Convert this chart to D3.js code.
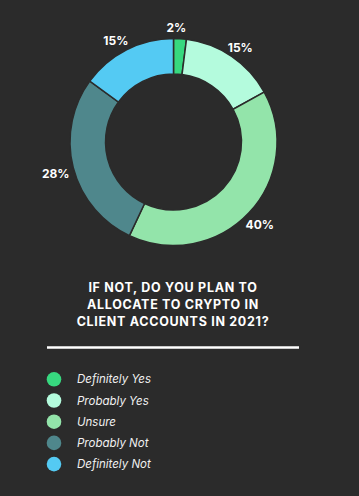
<!DOCTYPE html>
<html><head><meta charset="utf-8">
<script src="https://cdn.jsdelivr.net/npm/d3@7"></script>
<style>html,body{margin:0;padding:0;background:#2b2b2b;}svg{display:block;}</style>
</head><body>
<script>
const categories = ["Definitely Yes","Probably Yes","Unsure","Probably Not","Definitely Not"];
const values = [2,15,40,28,15];
const colors = ["#37d87f","#b4fbdd","#93e4aa","#4f878c","#54caf3"];
const titleLines = ["IF NOT, DO YOU PLAN TO","ALLOCATE TO CRYPTO IN","CLIENT ACCOUNTS IN 2021?"];

const W=359,H=496;
const FONT="Inter, 'Open Sans', sans-serif";
const svg=d3.select("body").append("svg").attr("width",W).attr("height",H);
svg.append("rect").attr("width",W).attr("height",H).attr("fill","#2b2b2b");

const cx=173.5, cy=142, rO=103.5, rI=68;
const pie=d3.pie().sort(null).value(d=>d)(values);
const arc=d3.arc().innerRadius(rI).outerRadius(rO);
const g=svg.append("g").attr("transform",`translate(${cx},${cy})`);
g.selectAll("path").data(pie).join("path")
 .attr("d",arc).attr("fill",(d,i)=>colors[i])
 .attr("stroke","#2b2b2b").attr("stroke-width",1.5);
const lab=d3.arc().innerRadius(117).outerRadius(117);
g.selectAll("text").data(pie).join("text")
 .attr("transform",d=>{const c=lab.centroid(d);const mid=(d.startAngle+d.endAngle)/2;
   return `translate(${c[0]+(Math.sin(mid)>0.2?1:-4.5)},${c[1]+2.3})`;})
 .attr("text-anchor","middle").attr("dominant-baseline","central")
 .attr("fill","#ffffff").attr("font-family",FONT)
 .attr("font-weight","700").attr("font-size",12)
 .text(d=>d.data+"%");

svg.append("g").selectAll("text").data(titleLines).join("text")
 .attr("x",173).attr("y",(d,i)=>292+i*17)
 .attr("text-anchor","middle").attr("fill","#ffffff")
 .attr("font-family",FONT).attr("font-weight","700")
 .attr("font-size",12.5).attr("letter-spacing",0.7)
 .text(d=>d);

svg.append("line").attr("x1",47).attr("x2",299).attr("y1",347.5).attr("y2",347.5)
 .attr("stroke","#ffffff").attr("stroke-width",2.7);

const leg=svg.append("g").selectAll("g").data(categories).join("g")
 .attr("transform",(d,i)=>`translate(0,${379.3+i*21.2})`);
leg.append("circle").attr("cx",54).attr("cy",0).attr("r",7.3).attr("fill",(d,i)=>colors[i]);
leg.append("text").attr("x",77).attr("y",0).attr("dominant-baseline","central")
 .attr("fill","#f0f0f0").attr("font-family",FONT)
 .attr("font-style","italic").attr("font-size",11.5).text(d=>d);
</script>
</body></html>
